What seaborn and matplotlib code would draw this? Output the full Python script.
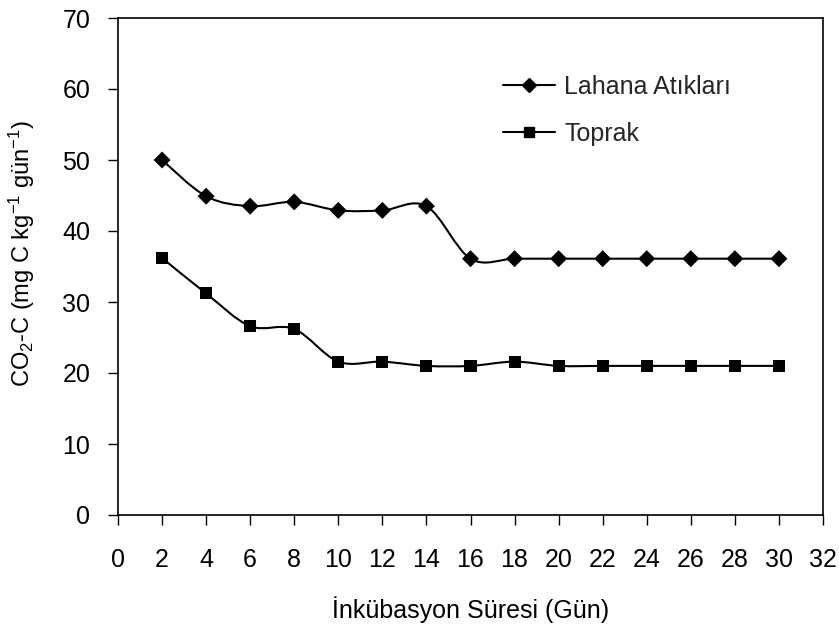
import numpy as np
import pandas as pd
import matplotlib
matplotlib.use("Agg")
import matplotlib.pyplot as plt
import seaborn as sns
from matplotlib.path import Path
from matplotlib.patches import PathPatch
from matplotlib.lines import Line2D

days = [2, 4, 6, 8, 10, 12, 14, 16, 18, 20, 22, 24, 26, 28, 30]
lahana = [50.0, 44.9, 43.5, 44.1, 42.9, 42.9, 43.5, 36.1, 36.1, 36.1, 36.1, 36.1, 36.1, 36.1, 36.1]
toprak = [36.2, 31.2, 26.6, 26.2, 21.6, 21.6, 21.0, 21.0, 21.6, 21.0, 21.0, 21.0, 21.0, 21.0, 21.0]
series_names = ["Lahana Atıkları", "Toprak"]
x_ticks = list(range(0, 33, 2))
y_ticks = list(range(0, 71, 10))

FS = 18

sns.set_theme(style="white")
plt.rcParams['font.family'] = ['Liberation Sans', 'DejaVu Sans']
plt.rcParams['mathtext.fontset'] = 'custom'
plt.rcParams['mathtext.rm'] = 'Liberation Sans'
plt.rcParams['mathtext.it'] = 'Liberation Sans'

fig = plt.figure(figsize=(8.39, 6.27), dpi=100)
ax = fig.add_axes([118/839, 1-515/627, (823-118)/839, (515-18)/627])

df = pd.DataFrame({"day": days * 2,
                   "value": lahana + toprak,
                   "series": [series_names[0]] * len(days) + [series_names[1]] * len(days)})


def smooth_path(x, y):
    x = np.asarray(x, float)
    y = np.asarray(y, float)
    n = len(x)
    verts = [(x[0], y[0])]
    codes = [Path.MOVETO]
    for i in range(n - 1):
        p0 = np.array([x[max(i-1, 0)], y[max(i-1, 0)]])
        p1 = np.array([x[i], y[i]])
        p2 = np.array([x[i+1], y[i+1]])
        p3 = np.array([x[min(i+2, n-1)], y[min(i+2, n-1)]])
        c1 = p1 + (p2 - p0) / 6.0
        c2 = p2 - (p3 - p1) / 6.0
        verts += [tuple(c1), tuple(c2), tuple(p2)]
        codes += [Path.CURVE4] * 3
    return Path(verts, codes)


for vals in (lahana, toprak):
    ax.add_patch(PathPatch(smooth_path(days, vals), facecolor='none',
                           edgecolor='black', lw=1.5, zorder=2))

sns.scatterplot(data=df, x="day", y="value", hue="series", style="series",
                markers={series_names[0]: "D", series_names[1]: "s"},
                palette={series_names[0]: "black", series_names[1]: "black"},
                s=75, edgecolor='black', linewidth=0, ax=ax, legend=False, zorder=3)

ax.set_xlim(0, 32)
ax.set_ylim(0, 70)
ax.set_xticks(x_ticks)
ax.set_yticks(y_ticks)
ax.tick_params(axis='both', direction='out', length=7, width=1, color='black',
               labelsize=FS, labelcolor='black', bottom=True, left=True)
ax.tick_params(axis='x', pad=17)
ax.tick_params(axis='y', pad=13)
for s in ax.spines.values():
    s.set_visible(True)
    s.set_color('black')
    s.set_linewidth(1.2)

ax.set_xlabel("İnkübasyon Süresi (Gün)", fontsize=FS, color='black', labelpad=17)
ax.set_ylabel(r"CO$_2$-C (mg C kg$^{-1}$ gün$^{-1}$)", fontsize=17, color='black')
ax.yaxis.set_label_coords(-0.115, 0.526)

handles = [Line2D([0], [0], color='black', lw=1.5, marker='D', markersize=7),
           Line2D([0], [0], color='black', lw=1.5, marker='s', markersize=7)]
ax.legend(handles, series_names, loc='upper left', bbox_to_anchor=(0.546, 0.885),
          frameon=False, fontsize=FS, handlelength=2.1, handletextpad=0.35,
          labelspacing=0.9, borderaxespad=0, borderpad=0)

fig.savefig("out.png", dpi=100)
